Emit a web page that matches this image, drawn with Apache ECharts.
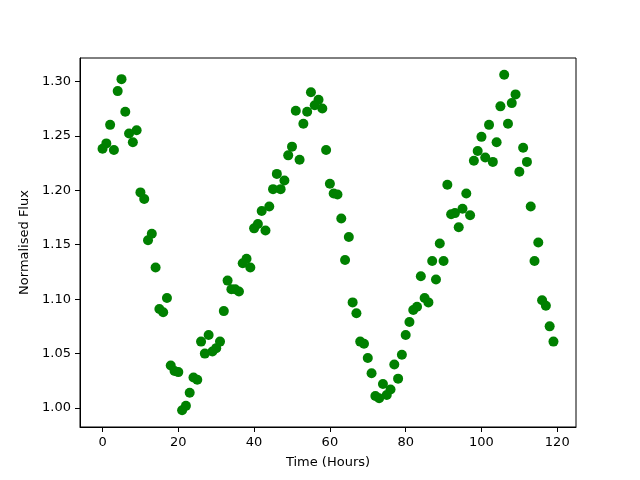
<!DOCTYPE html>
<html>
<head>
<meta charset="utf-8">
<script src="https://cdn.jsdelivr.net/npm/echarts@6/dist/echarts.min.js"></script>
<style>
  html, body { margin: 0; padding: 0; background: #fff; }
  #chart { width: 640px; height: 480px; }
</style>
</head>
<body>
<div id="chart"></div>
<script>
// hours 0..119
const hours = Array.from({ length: 120 }, (_, i) => i);
const flux = [
  1.238, 1.243, 1.260, 1.237, 1.291, 1.302, 1.272, 1.252, 1.244, 1.255,
  1.198, 1.192, 1.154, 1.160, 1.129, 1.091, 1.088, 1.101, 1.039, 1.034,
  1.033, 0.998, 1.002, 1.014, 1.028, 1.026, 1.061, 1.050, 1.067, 1.052,
  1.055, 1.061, 1.089, 1.117, 1.109, 1.109, 1.107, 1.133, 1.137, 1.129,
  1.165, 1.169, 1.181, 1.163, 1.185, 1.201, 1.215, 1.201, 1.209, 1.232,
  1.240, 1.273, 1.228, 1.261, 1.272, 1.290, 1.278, 1.283, 1.275, 1.237,
  1.206, 1.197, 1.196, 1.174, 1.136, 1.157, 1.097, 1.087, 1.061, 1.059,
  1.046, 1.032, 1.011, 1.009, 1.022, 1.012, 1.017, 1.040, 1.027, 1.049,
  1.067, 1.079, 1.090, 1.093, 1.121, 1.101, 1.097, 1.135, 1.118, 1.151,
  1.135, 1.205, 1.178, 1.179, 1.166, 1.183, 1.197, 1.177, 1.227, 1.236,
  1.249, 1.230, 1.260, 1.226, 1.244, 1.277, 1.306, 1.261, 1.280, 1.288,
  1.217, 1.239, 1.226, 1.185, 1.135, 1.152, 1.099, 1.094, 1.075, 1.061
];
const xTicks = [0, 20, 40, 60, 80, 100, 120];
const yTicks = [1.00, 1.05, 1.10, 1.15, 1.20, 1.25, 1.30];

const myChart = echarts.init(document.getElementById("chart"));
const font = "DejaVu Sans";
myChart.setOption({
  animation: false,
  grid: {
    left: 80,
    right: 64,
    top: 58,
    bottom: 53,
    show: true,
    borderColor: "#000",
    borderWidth: 1,
    containLabel: false
  },
  xAxis: {
    type: "value",
    min: -5.95,
    max: 124.95,
    name: "Time (Hours)",
    nameLocation: "middle",
    nameGap: 29,
    nameTextStyle: { color: "#000", fontSize: 13, fontFamily: font },
    axisLine: { show: true, onZero: false, lineStyle: { color: "#000" } },
    axisTick: { show: true, inside: false, length: 5, customValues: xTicks, lineStyle: { color: "#000" } },
    axisLabel: {
      customValues: xTicks,
      color: "#000",
      fontSize: 13,
      fontFamily: font,
      margin: 9
    },
    splitLine: { show: false }
  },
  yAxis: {
    type: "value",
    min: 0.9826,
    max: 1.3214,
    name: "Normalised Flux",
    nameLocation: "middle",
    nameGap: 47,
    nameTextStyle: { color: "#000", fontSize: 13, fontFamily: font },
    axisLine: { show: true, onZero: false, lineStyle: { color: "#000" } },
    axisTick: { show: true, inside: false, length: 5, customValues: yTicks, lineStyle: { color: "#000" } },
    axisLabel: {
      customValues: yTicks,
      color: "#000",
      fontSize: 13,
      fontFamily: font,
      margin: 9,
      formatter: v => v.toFixed(2)
    },
    splitLine: { show: false }
  },
  series: [
    {
      type: "scatter",
      symbol: "circle",
      symbolSize: 10,
      itemStyle: { color: "#008000", opacity: 1 },
      data: hours.map((h, i) => [h, flux[i]])
    }
  ]
});
</script>
</body>
</html>
